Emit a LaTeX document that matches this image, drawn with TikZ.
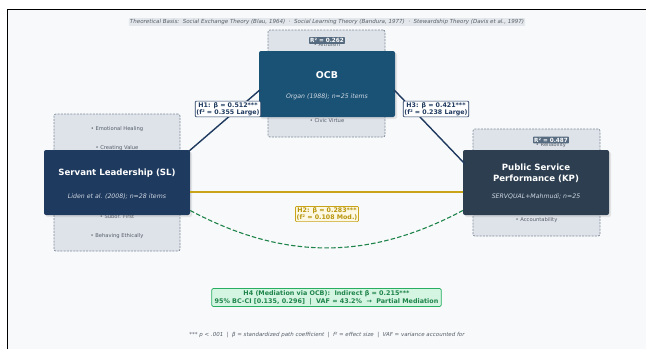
\documentclass[tikz,border=0pt]{standalone}
\usepackage{fontspec}
\setmainfont{DejaVu Sans}
\usetikzlibrary{shadows,calc}
\definecolor{pagebg}{HTML}{F8F9FB}
\definecolor{slcol}{HTML}{1F3A5F}
\definecolor{ocbcol}{HTML}{1A5276}
\definecolor{kpcol}{HTML}{2C3E50}
\definecolor{boxbg}{HTML}{DEE2E9}
\definecolor{boxline}{HTML}{7F8C9A}
\definecolor{goldline}{HTML}{C9A318}
\definecolor{goldtext}{HTML}{B7950B}
\definecolor{goldfill}{HTML}{FDF8E4}
\definecolor{greenline}{HTML}{1E8449}
\definecolor{greenfill}{HTML}{D5F5E3}
\definecolor{greenborder}{HTML}{27AE60}
\definecolor{rcol}{HTML}{566B80}
\definecolor{bannerfill}{HTML}{E4E7EB}
\definecolor{greytext}{HTML}{555E68}
\definecolor{subtext}{HTML}{D0D8E2}
\tikzset{
  bgpanel/.style={draw=boxline, dash pattern=on 2pt off 1.2pt, fill=boxbg, rounded corners=2pt, line width=0.7pt},
  mainbox/.style={rounded corners=2pt, text=white, align=center, inner sep=0pt,
    drop shadow={opacity=0.18, shadow xshift=2pt, shadow yshift=-2pt}},
  bullet/.style={font=\fontsize{5.2}{6}\selectfont, text=greytext},
  rlabel/.style={fill=rcol, text=white, font=\bfseries\fontsize{5.7}{6.5}\selectfont, inner sep=1.1pt, rounded corners=0.5pt},
  pathlab/.style={fill=white, draw=slcol, line width=0.7pt, text=slcol, rounded corners=1pt,
    font=\bfseries\fontsize{6.3}{7.1}\selectfont, align=center, inner sep=1.2pt},
  pathline/.style={draw=slcol, line width=1.4pt},
  titletext/.style={text=white, font=\bfseries\fontsize{8.6}{10.8}\selectfont, align=center},
  subtitletext/.style={text=subtext, font=\itshape\fontsize{6.2}{7}\selectfont},
}
\begin{document}
\begin{tikzpicture}[x=1pt,y=-1pt]
\useasboundingbox (0,0) rectangle (646,349);
\fill[white] (0,0) rectangle (646,349);
\fill[pagebg] (7,9) rectangle (646,349);
\draw[black, line width=0.8pt] (7,349) -- (7,9) -- (646,9);

% theory banner
\node[fill=bannerfill, rounded corners=1pt, inner sep=1.2pt, text=greytext,
  font=\itshape\fontsize{5.55}{6.2}\selectfont] (banner) at (327,22)
  {Theoretical Basis:\ \ Social Exchange Theory (Blau, 1964)\ \ ·\ \ Social Learning Theory (Bandura, 1977)\ \ ·\ \ Stewardship Theory (Davis et al., 1997)};

% background panels
\node[bgpanel, minimum width=117pt, minimum height=107pt] (ocbbg) at (326.5,83.5) {};
\node[bgpanel, minimum width=126pt, minimum height=137pt] (slbg) at (117,182.5) {};
\node[bgpanel, minimum width=127pt, minimum height=107pt] (kpbg) at (536.5,182.5) {};

% bullet items
\node[bullet] (b1) at (117,129) {• Emotional Healing};
\node[bullet] (b2) at (117,148) {• Creating Value};
\node[bullet] (b3) at (117,216.5) {• Subor. First};
\node[bullet] (b4) at (117,236) {• Behaving Ethically};
\node[bullet] (b5) at (327,45) {• Altruism};
\node[bullet] (b6) at (327,121) {• Civic Virtue};
\node[bullet] (b7) at (551,145) {• Reliability};
\node[bullet] (b8) at (536.5,220) {• Accountability};

% main boxes
\node[mainbox, fill=ocbcol, minimum width=136pt, minimum height=66pt] (ocb) at (327,84) {};
\node[titletext, font=\bfseries\fontsize{9.4}{10}\selectfont] (ocbt) at (327,75) {OCB};
\node[subtitletext] (ocbs) at (327,97) {Organ (1988); n=25 items};

\node[mainbox, fill=slcol, minimum width=146pt, minimum height=65pt] (sl) at (117,182.5) {};
\node[titletext] (slt) at (117,173) {Servant Leadership (SL)};
\node[subtitletext] (sls) at (117,197) {Liden et al. (2008); n=28 items};

\node[mainbox, fill=kpcol, minimum width=146pt, minimum height=65pt] (kp) at (536,182.5) {};
\node[titletext] (kpt) at (536,173.5) {Public Service\\Performance (KP)};
\node[subtitletext] (kps) at (536,197) {SERVQUAL+Mahmudi; n=25};

% R squared labels
\node[rlabel] (r1) at (327,40.5) {R² = 0.262};
\node[rlabel] (r2) at (551,140) {R² = 0.487};

% connectors
\coordinate (slh1) at ($(sl.north east)+(-2,2)$);
\coordinate (ocbh1) at ($(ocb.west)+(1,6)$);
\coordinate (ocbh3) at ($(ocb.east)+(-1,6)$);
\coordinate (kph3) at ($(kp.north west)+(2,14)$);
\draw[pathline] (slh1) -- (ocbh1);
\draw[pathline] (ocbh3) -- (kph3);
\coordinate (slh2) at ($(sl.east)+(0,9.5)$);
\coordinate (kph2) at ($(kp.west)+(0,9.5)$);
\draw[draw=goldline, line width=1.4pt] (slh2) -- (kph2);
\coordinate (slh4) at ($(sl.east)+(0,28)$);
\coordinate (kph4) at ($(kp.west)+(0,28)$);
\draw[draw=greenline, line width=1.1pt, dash pattern=on 4.5pt off 2.2pt] (slh4) to[bend right=28] (kph4);

% path labels
\node[pathlab] (h1) at (228,109) {H1: β = 0.512***\\(f² = 0.355 Large)};
\node[pathlab] (h3) at (436,109) {H3: β = 0.421***\\(f² = 0.238 Large)};
\node[pathlab, draw=goldline, fill=goldfill, text=goldtext] (h2) at (327,214) {H2: β = 0.283***\\(f² = 0.108 Mod.)};

% mediation box
\node[fill=greenfill, draw=greenborder, line width=0.8pt, rounded corners=1.5pt, text=greenline,
  font=\bfseries\fontsize{6.4}{7.6}\selectfont, align=center, inner xsep=3pt, inner ysep=2pt] (h4) at (326.5,297.5)
  {H4 (Mediation via OCB):\ \ Indirect β = 0.215***\\95\% BC-CI [0.135, 0.296]\ \ |\ \ VAF = 43.2\%\ \ →\ \ Partial Mediation};

% footer
\node[text=greytext, font=\itshape\fontsize{5.5}{6.5}\selectfont] (foot) at (327,335)
  {*** p < .001\ \ |\ \ β = standardized path coefficient\ \ |\ \ f² = effect size\ \ |\ \ VAF = variance accounted for};
\end{tikzpicture}
\end{document}
